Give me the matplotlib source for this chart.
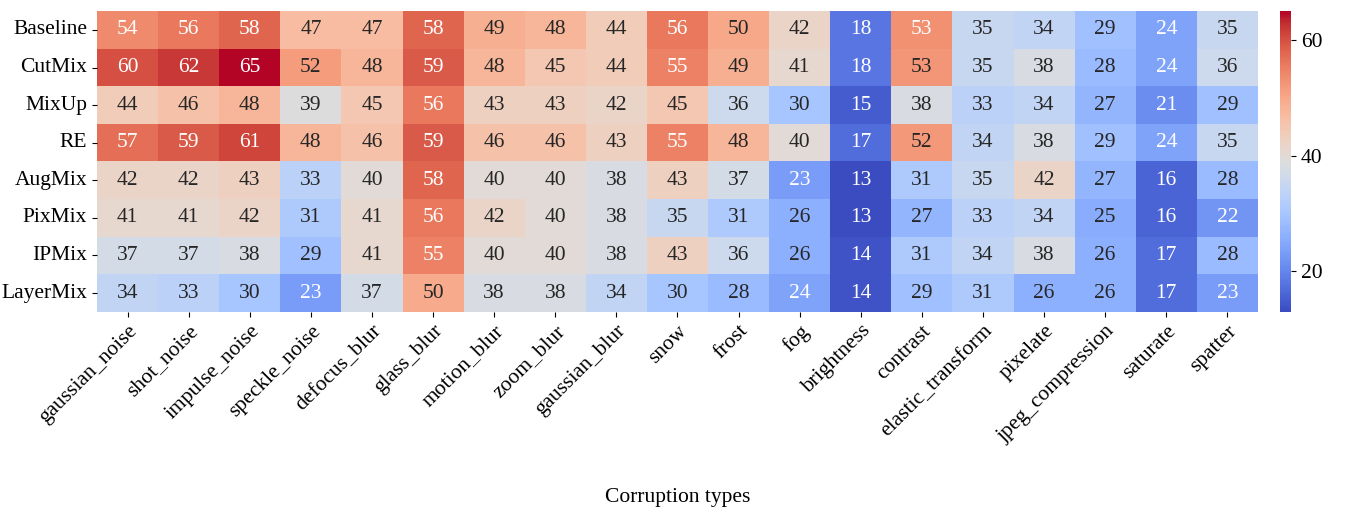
import numpy as np
import matplotlib
matplotlib.use("Agg")
import matplotlib.pyplot as plt
import seaborn as sns

methods = ["Baseline", "CutMix", "MixUp", "RE", "AugMix", "PixMix", "IPMix", "LayerMix"]
corruptions = ["gaussian_noise", "shot_noise", "impulse_noise", "speckle_noise",
               "defocus_blur", "glass_blur", "motion_blur", "zoom_blur",
               "gaussian_blur", "snow", "frost", "fog", "brightness", "contrast",
               "elastic_transform", "pixelate", "jpeg_compression", "saturate",
               "spatter"]

baseline = [54, 56, 58, 47, 47, 58, 49, 48, 44, 56, 50, 42, 18, 53.2, 35, 34, 29, 24, 35]
cutmix   = [60, 62, 65, 51.6, 48, 59, 48, 45, 44, 55, 49, 41, 18, 52.6, 35, 38, 28, 24, 36]
mixup    = [44, 46, 48, 39, 45, 56, 43, 43, 42, 45, 36, 30, 15, 38, 33, 34, 27, 21, 29]
re_      = [57, 59, 61, 48, 46, 59, 46, 46, 43, 55, 48, 40, 17, 52, 34, 38, 29, 24, 35]
augmix   = [42, 42, 43, 33, 40, 58, 40, 40, 38, 43, 37, 23, 13, 31, 35, 42, 27, 16, 28]
pixmix   = [41, 41, 42, 31, 41, 56, 42, 40, 38, 35, 31, 26, 13, 27, 33, 34, 25.4, 16, 22]
ipmix    = [37, 37, 38, 29, 41, 55, 40, 40, 38, 43, 36, 26, 14, 31, 34, 38, 26, 17, 28]
layermix = [34, 33, 30, 23, 37, 49.6, 38, 38, 34, 30, 28, 24, 14, 29, 31, 26, 26, 17, 23]

data = np.array([baseline, cutmix, mixup, re_, augmix, pixmix, ipmix, layermix])

plt.rcParams['font.family'] = ['Liberation Serif', 'DejaVu Serif']
fs = 15.5

fig = plt.figure(figsize=(13.57, 5.07), dpi=100)
ax = fig.add_axes([0.0715, 0.385, 0.8555, 0.593])
cax = fig.add_axes([0.943, 0.385, 0.0085, 0.593])

sns.heatmap(data, ax=ax, cbar_ax=cax, cmap="coolwarm", annot=True, fmt=".0f",
            annot_kws={"size": fs},
            xticklabels=corruptions, yticklabels=methods)

ax.set_yticklabels(methods, rotation=0, fontsize=fs)
ax.set_xticklabels(corruptions, rotation=45, ha='right', rotation_mode='anchor',
                   fontsize=fs)
ax.set_xlabel("Corruption types", fontsize=fs, labelpad=30)
cax.tick_params(labelsize=fs)
cax.set_yticks([20, 40, 60])

fig.savefig("out.png", dpi=100)
